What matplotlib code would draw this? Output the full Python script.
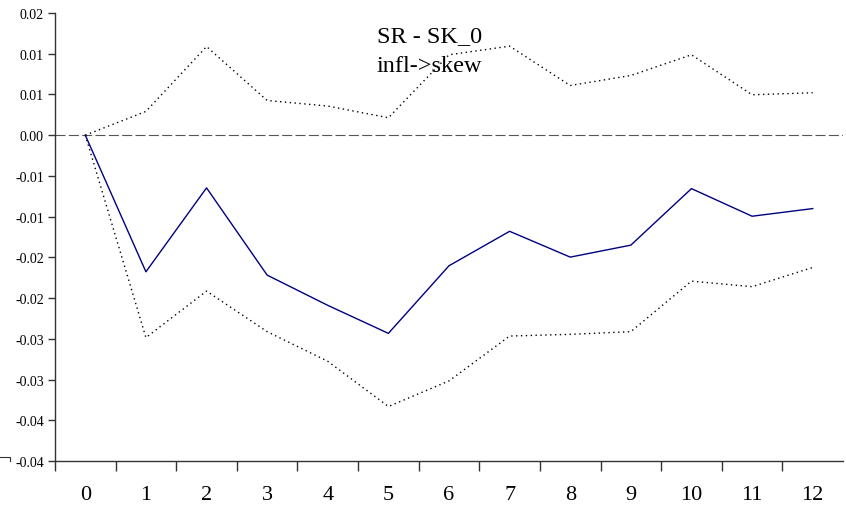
import matplotlib.pyplot as plt
from matplotlib.lines import Line2D

plt.rcParams['font.family'] = ['Liberation Serif', 'DejaVu Serif']

# impulse response: infl -> skew, with bands
periods = list(range(13))
response = [0.0, -0.01677, -0.00647, -0.01718, -0.02089, -0.02433, -0.01603,
            -0.01180, -0.01497, -0.01350, -0.00656, -0.00995, -0.00901]
upper = [0.0, 0.00292, 0.01088, 0.00426, 0.00358, 0.00214, 0.00987,
         0.01093, 0.00610, 0.00733, 0.00987, 0.00496, 0.00521]
lower = [0.0, -0.02485, -0.01914, -0.02412, -0.02776, -0.03331, -0.03017,
         -0.02466, -0.02445, -0.02412, -0.01792, -0.01860, -0.01624]

ytick_vals = [0.015, 0.01, 0.005, 0.0, -0.005, -0.01, -0.015, -0.02,
              -0.025, -0.03, -0.035, -0.04]
ytick_labels = ['0.02', '0.01', '0.01', '0.00', '-0.01', '-0.01', '-0.02',
                '-0.02', '-0.03', '-0.03', '-0.04', '-0.04']
title_lines = ['SR - SK_0', 'infl->skew']

W, H = 846, 506
fig = plt.figure(figsize=(W / 100, H / 100), dpi=100)
ax = fig.add_axes([55 / W, 1 - 462 / H, (843 - 55) / W, (462 - 14) / H])

ax.axhline(0, color='#555555', lw=0.8, ls=(0, (9, 3)), zorder=1)
ax.plot(periods, upper, color='black', lw=1.0, ls=(0, (1, 2.5)))
ax.plot(periods, lower, color='black', lw=1.0, ls=(0, (1, 2.5)))
ax.plot(periods, response, color='#000080', lw=1.0)

ax.set_xlim(-0.5, 12.5)
ax.set_ylim(-0.04, 0.015)

# category axis: ticks between categories, labels at categories
ax.set_xticks([p + 0.5 for p in periods[:-1]] + [-0.5])
ax.set_xticks(periods, minor=True)
ax.set_xticklabels(periods, minor=True, fontsize=16)
ax.tick_params(axis='x', which='major', labelbottom=False, length=7,
               width=1, direction='out', color='#333333')
ax.tick_params(axis='x', which='minor', length=0, pad=17)

ax.set_yticks(ytick_vals)
ax.set_yticklabels(ytick_labels, fontsize=10)
ax.tick_params(axis='y', length=5, width=1, direction='out', pad=3,
               color='#333333')

for side in ['top', 'right']:
    ax.spines[side].set_visible(False)
for side in ['left', 'bottom']:
    ax.spines[side].set_color('#333333')
    ax.spines[side].set_linewidth(1.0)

fig.text(377 / W, 1 - 42 / H, title_lines[0], fontsize=17.5, va='baseline')
fig.text(377 / W, 1 - 72 / H, title_lines[1], fontsize=17.5, va='baseline')

# small stray mark at lower left of the original
fig.add_artist(Line2D([0, 10 / W, 10 / W], [1 - 458 / H, 1 - 458 / H, 1 - 462 / H],
                      transform=fig.transFigure, color='#333333', lw=0.8))

fig.savefig('out.png', dpi=100)
